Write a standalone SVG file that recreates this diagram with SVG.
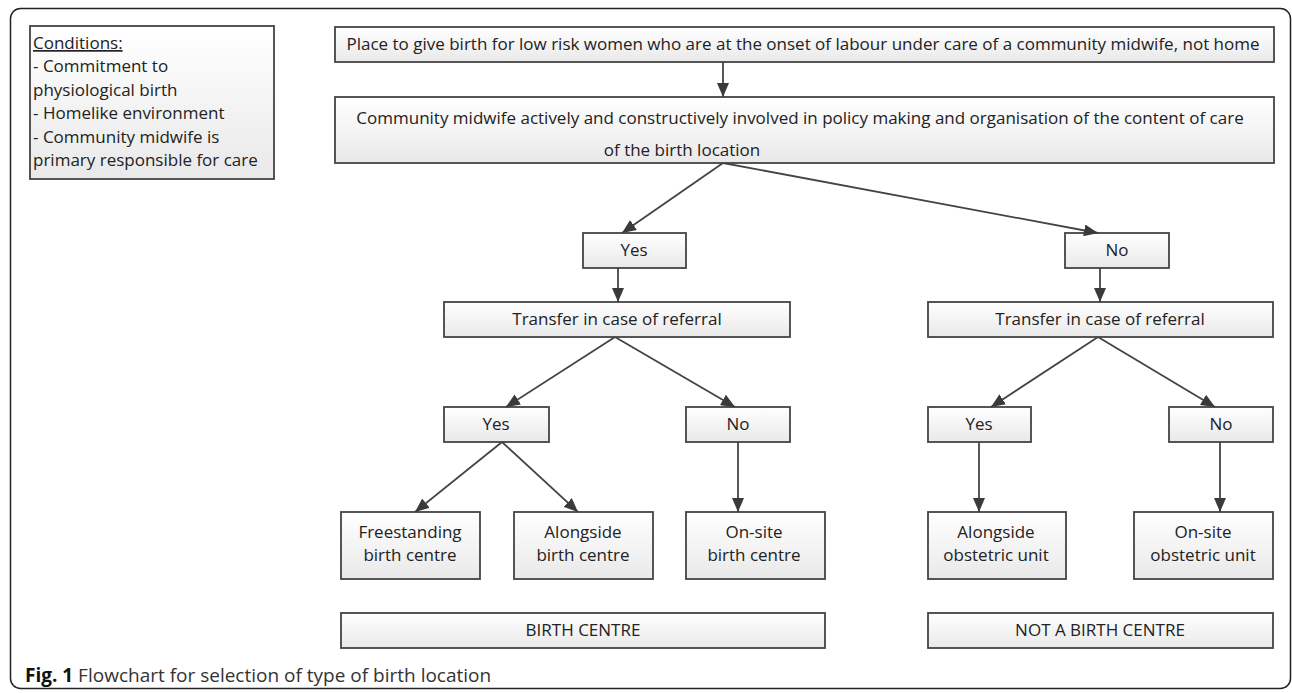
<svg xmlns="http://www.w3.org/2000/svg" width="1292" height="693" viewBox="0 0 1292 693">
<defs>
<linearGradient id="g" x1="0" y1="0" x2="0" y2="1">
<stop offset="0" stop-color="#ffffff"/>
<stop offset="1" stop-color="#e9e9e9"/>
</linearGradient>
<marker id="ah" viewBox="0 0 14 12" refX="14" refY="6" markerWidth="14" markerHeight="12" markerUnits="userSpaceOnUse" orient="auto">
<path d="M0,0 L14,6 L0,12 Z" fill="#3a3a3a"/>
</marker>
<style>
.box{fill:url(#g);stroke:#444;stroke-width:1.8}
.t{font-family:"Open Sans","Noto Sans",sans-serif;font-size:17px;fill:#222;text-anchor:middle}
.c{font-family:"Open Sans","Noto Sans",sans-serif;font-size:17px;fill:#222}
.ln{stroke:#444;stroke-width:1.8;fill:none;marker-end:url(#ah)}
</style>
</defs>
<rect x="10.5" y="8.5" width="1280" height="680" rx="10" fill="none" stroke="#222" stroke-width="1.5"/>
<g id="conditions">
<rect x="30" y="26" width="244" height="153" class="box"/>
<text class="c" x="33" y="49" text-decoration="underline">Conditions:</text>
<text class="c" x="33" y="72">- Commitment to</text>
<text class="c" x="33" y="96">physiological birth</text>
<text class="c" x="33" y="119">- Homelike environment</text>
<text class="c" x="33" y="143">- Community midwife is</text>
<text class="c" x="33" y="166">primary responsible for care</text>
</g>
<g id="start">
<rect x="335" y="27" width="939" height="35" class="box"/>
<text class="t" x="803" y="50">Place to give birth for low risk women who are at the onset of labour under care of a community midwife, not home</text>
</g>
<g id="involved">
<rect x="335" y="97" width="939" height="66" class="box"/>
<text class="t" x="800" y="124">Community midwife actively and constructively involved in policy making and organisation of the content of care</text>
<text class="t" x="682" y="156">of the birth location</text>
</g>
<g id="yes1"><rect x="583" y="233" width="103" height="35" class="box"/><text class="t" x="634" y="256">Yes</text></g>
<g id="no1"><rect x="1065" y="233" width="104" height="35" class="box"/><text class="t" x="1117" y="256">No</text></g>
<g id="transferL"><rect x="444" y="302" width="346" height="35" class="box"/><text class="t" x="617" y="325">Transfer in case of referral</text></g>
<g id="transferR"><rect x="928" y="302" width="345" height="35" class="box"/><text class="t" x="1100" y="325">Transfer in case of referral</text></g>
<g id="yes2"><rect x="444" y="407" width="105" height="35" class="box"/><text class="t" x="496" y="430">Yes</text></g>
<g id="no2"><rect x="686" y="407" width="104" height="35" class="box"/><text class="t" x="738" y="430">No</text></g>
<g id="yes3"><rect x="928" y="407" width="103" height="35" class="box"/><text class="t" x="979" y="430">Yes</text></g>
<g id="no3"><rect x="1169" y="407" width="104" height="35" class="box"/><text class="t" x="1221" y="430">No</text></g>
<g id="freestanding"><rect x="341" y="512" width="139" height="67" class="box"/><text class="t" x="410" y="538">Freestanding</text><text class="t" x="410" y="561">birth centre</text></g>
<g id="alongsideBC"><rect x="514" y="512" width="139" height="67" class="box"/><text class="t" x="583" y="538">Alongside</text><text class="t" x="583" y="561">birth centre</text></g>
<g id="onsiteBC"><rect x="686" y="512" width="139" height="67" class="box"/><text class="t" x="754" y="538">On-site</text><text class="t" x="754" y="561">birth centre</text></g>
<g id="alongsideOU"><rect x="928" y="512" width="138" height="67" class="box"/><text class="t" x="996" y="538">Alongside</text><text class="t" x="996" y="561">obstetric unit</text></g>
<g id="onsiteOU"><rect x="1134" y="512" width="139" height="67" class="box"/><text class="t" x="1203" y="538">On-site</text><text class="t" x="1203" y="561">obstetric unit</text></g>
<g id="birthcentre"><rect x="341" y="613" width="484" height="35" class="box"/><text class="t" x="583" y="636">BIRTH CENTRE</text></g>
<g id="notbirthcentre"><rect x="928" y="613" width="345" height="35" class="box"/><text class="t" x="1100" y="636">NOT A BIRTH CENTRE</text></g>
<g id="connectors">
<line class="ln" x1="723" y1="62" x2="723" y2="97"/>
<line class="ln" x1="723" y1="163" x2="622" y2="233"/>
<line class="ln" x1="723" y1="163" x2="1098" y2="233"/>
<line class="ln" x1="618" y1="268" x2="618" y2="302"/>
<line class="ln" x1="1100" y1="268" x2="1100" y2="302"/>
<line class="ln" x1="615" y1="337" x2="506" y2="407"/>
<line class="ln" x1="615" y1="337" x2="735" y2="407"/>
<line class="ln" x1="1098" y1="337" x2="991" y2="407"/>
<line class="ln" x1="1098" y1="337" x2="1215" y2="407"/>
<line class="ln" x1="502" y1="442" x2="415" y2="512"/>
<line class="ln" x1="502" y1="442" x2="578" y2="512"/>
<line class="ln" x1="738" y1="442" x2="738" y2="512"/>
<line class="ln" x1="979" y1="442" x2="979" y2="512"/>
<line class="ln" x1="1220" y1="442" x2="1220" y2="512"/>
</g>
<text x="25" y="682" font-family="'Open Sans','Noto Sans',sans-serif" font-size="19" fill="#333"><tspan font-weight="bold" fill="#111">Fig. 1</tspan> Flowchart for selection of type of birth location</text>
</svg>
